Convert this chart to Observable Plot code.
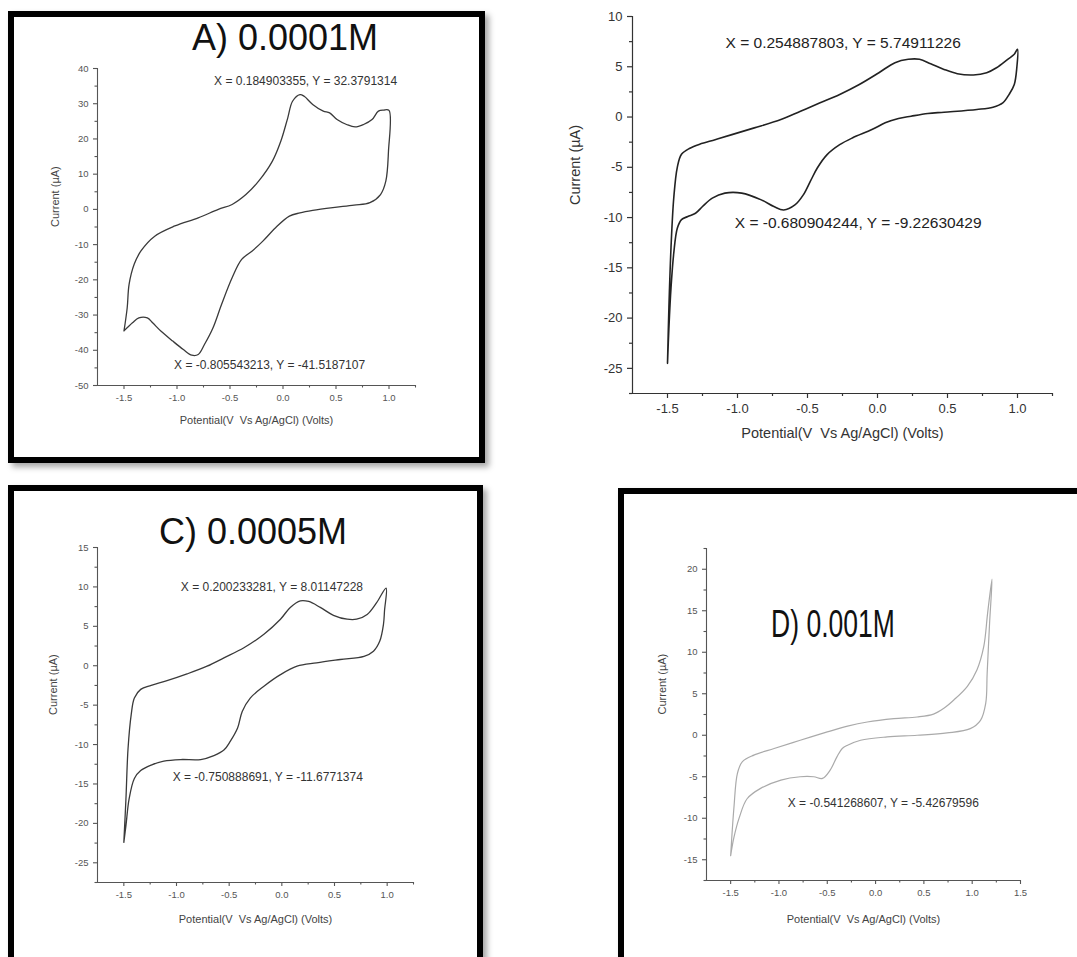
<!DOCTYPE html>
<html>
<head>
<meta charset="utf-8">
<script src="https://cdn.jsdelivr.net/npm/d3@7"></script>
<script src="https://cdn.jsdelivr.net/npm/@observablehq/plot@0.6"></script>
<style>
  html, body { margin: 0; padding: 0; background: #fff; }
  #root { position: relative; width: 1077px; height: 957px; overflow: hidden; background: #fff;
          font-family: "Liberation Sans", Arial, sans-serif; }
  .frame { position: absolute; box-sizing: border-box; border: 6px solid #000; pointer-events: none; z-index: 2;
           box-shadow: 4px 4px 6px rgba(0,0,0,0.35); }
  .title { position: absolute; z-index: 3; white-space: nowrap; color: #111; line-height: 1;
           font-family: "Liberation Sans", Arial, sans-serif; }
  svg.panel { position: absolute; z-index: 1; }
</style>
</head>
<body>
<div id="root">
  <div class="frame" style="left:8px;top:11px;width:477px;height:452px;"></div>
  <div class="frame" style="left:8px;top:485px;width:475px;height:520px;"></div>
  <div class="frame" style="left:618px;top:488px;width:520px;height:520px;"></div>
</div>
<script>
// ---------- Data ----------
const titles = ["A) 0.0001M", "C) 0.0005M", "D) 0.001M"];
const xLabel = "Potential(V  Vs Ag/AgCl) (Volts)";
const yLabel = "Current (\u00b5A)";

// Panel A (0.0001 M)
const aX = [-1.50,-1.47,-1.452,-1.404,-1.34,-1.21,-1.02,-0.80,-0.61,-0.48,-0.35,-0.23,-0.10,-0.02,0.045,0.09,0.16,0.20,0.28,0.38,0.44,0.51,0.60,0.68,0.76,0.84,0.90,0.95,1.00,
            0.995,0.97,0.92,0.82,0.67,0.47,0.28,0.16,0.06,-0.07,-0.19,-0.29,-0.39,-0.48,-0.58,-0.66,-0.74,-0.80,-0.86,-0.94,-1.04,-1.15,-1.23,-1.28,-1.36,-1.42,-1.50];
const aY = [-34.5,-28,-21.3,-15.6,-11.8,-7.6,-4.7,-2.4,0,1.4,4.2,8.0,13.7,19.4,26,30.7,32.6,32.1,29.8,27.9,27.4,25.5,24.1,23.4,24.1,25.5,27.9,28.2,28.1,
            16.5,8.0,4.2,1.9,1.2,0.5,-0.3,-1.0,-1.9,-5.2,-9.0,-11.8,-14.2,-19.4,-27,-33.6,-38.3,-41.2,-41.4,-39.8,-37.4,-34.6,-32.2,-30.8,-30.8,-32.2,-34.5];
const aPeaks = [{x: 0.184903355, y: 32.3791314}, {x: -0.805543213, y: -41.5187107}];

// Panel B
const bX = [-1.50,-1.49,-1.475,-1.455,-1.43,-1.40,-1.34,-1.27,-1.16,-1.04,-0.88,-0.69,-0.55,-0.41,-0.27,-0.13,0.01,0.125,0.22,0.30,0.38,0.475,0.57,0.685,0.78,0.85,0.93,0.977,1.00,
            0.995,0.977,0.94,0.895,0.825,0.71,0.475,0.36,0.24,0.15,0.055,-0.04,-0.18,-0.27,-0.36,-0.43,-0.48,-0.53,-0.59,-0.67,-0.74,-0.83,-0.97,-1.09,-1.18,-1.25,-1.30,-1.355,-1.40,-1.43,-1.455,-1.475,-1.49,-1.50];
const bY = [-24.5,-19,-13,-8,-5,-3.7,-3.1,-2.7,-2.25,-1.75,-1.08,-0.25,0.58,1.41,2.25,3.24,4.41,5.41,5.74,5.74,5.3,4.74,4.31,4.18,4.41,4.9,5.74,6.24,6.74,
            4.9,3.24,2.25,1.41,0.98,0.75,0.48,0.35,0.08,-0.15,-0.58,-1.25,-2.08,-2.75,-3.74,-5.07,-6.4,-7.74,-8.74,-9.24,-8.9,-8.24,-7.57,-7.57,-8.07,-8.9,-9.57,-9.9,-10.2,-11.07,-13.5,-17,-21,-24.5];
const bPeaks = [{x: 0.254887803, y: 5.74911226}, {x: -0.680904244, y: -9.22630429}];

// Panel C (0.0005 M)
const cX = [-1.50,-1.48,-1.46,-1.43,-1.40,-1.34,-1.24,-1.09,-0.90,-0.71,-0.55,-0.36,-0.17,-0.013,0.08,0.176,0.255,0.365,0.49,0.62,0.71,0.81,0.90,0.99,
            0.975,0.965,0.93,0.87,0.78,0.555,0.33,0.145,-0.013,-0.17,-0.30,-0.376,-0.42,-0.49,-0.55,-0.645,-0.77,-0.96,-1.12,-1.24,-1.34,-1.40,-1.45,-1.48,-1.50];
const cY = [-22.4,-16.9,-10.5,-6.2,-4.1,-3.0,-2.5,-1.9,-1.04,-0.06,1.0,2.28,4.0,5.9,7.4,8.23,8.15,7.4,6.4,5.9,5.9,6.5,8.0,9.85,
            7.0,5.26,3.13,1.85,1.2,0.79,0.36,-0.06,-1.13,-2.6,-4.1,-5.8,-7.9,-9.6,-10.7,-11.4,-11.9,-11.9,-12.1,-12.6,-13.3,-14.3,-16.9,-20.3,-22.4];
const cPeaks = [{x: 0.200233281, y: 8.01147228}, {x: -0.750888691, y: -11.6771374}];

// Panel D (0.001 M)
const dX = [-1.50,-1.466,-1.43,-1.38,-1.26,-1.05,-0.78,-0.50,-0.29,-0.086,0.19,0.43,0.60,0.707,0.81,0.95,1.05,1.12,1.16,1.205,
            1.18,1.155,1.14,1.086,0.98,0.74,0.43,0.12,-0.155,-0.29,-0.345,-0.40,-0.47,-0.55,-0.64,-0.78,-0.98,-1.19,-1.33,-1.41,-1.466,-1.50];
const dY = [-14.5,-8.7,-4.6,-3.2,-2.4,-1.6,-0.6,0.4,1.1,1.6,2.0,2.2,2.55,3.25,4.25,5.9,7.9,10.7,14.75,18.8,
            13.5,7.5,3.85,1.8,0.8,0.28,0.0,-0.2,-0.6,-1.2,-1.6,-2.6,-4.2,-5.2,-5.0,-5.0,-5.4,-6.4,-7.65,-9.9,-12.3,-14.5];
const dPeaks = [{x: -0.541268607, y: -5.42679596}];

// Tick values
const xMajorA = [-1.5,-1.0,-0.5,0.0,0.5,1.0];
const xMinorA = [-1.25,-0.75,-0.25,0.25,0.75,1.25];
const xMajorD = [-1.5,-1.0,-0.5,0.0,0.5,1.0,1.5];
const xMinorD = [-1.25,-0.75,-0.25,0.25,0.75,1.25];
const yMajorA = [-50,-40,-30,-20,-10,0,10,20,30,40];
const yMinorA = [-45,-35,-25,-15,-5,5,15,25,35];
const yMajorB = [-25,-20,-15,-10,-5,0,5,10];
const yMinorB = [-27.5,-22.5,-17.5,-12.5,-7.5,-2.5,2.5,7.5];
const yMajorC = [-25,-20,-15,-10,-5,0,5,10,15];
const yMinorC = [-27.5,-22.5,-17.5,-12.5,-7.5,-2.5,2.5,7.5,12.5];
const yMajorD = [-15,-10,-5,0,5,10,15,20];
const yMinorD = [-17.5,-12.5,-7.5,-2.5,2.5,7.5,12.5,17.5,22.5];

// ---------- Drawing ----------
function panel(c) {
  const pts = c.xs.map((x, i) => ({x, y: c.ys[i]}));
  const fmtX = d => d.toFixed(1);
  const fmtY = d => String(d);
  const marks = [
    Plot.ruleX([c.xDomain[0]], {stroke: c.axisColor, strokeWidth: c.axisW}),
    Plot.ruleY([c.yDomain[0]], {stroke: c.axisColor, strokeWidth: c.axisW}),
    Plot.axisX({ticks: c.xMajor, tickSize: c.tick, tickPadding: c.pad, tickFormat: fmtX, fontSize: c.fs,
                label: null, stroke: c.axisColor, fill: c.tickText, strokeWidth: c.axisW}),
    Plot.axisX({ticks: c.xMinor, tickSize: c.minor, tickFormat: () => "", label: null, stroke: c.axisColor, strokeWidth: c.axisW}),
    Plot.axisY({ticks: c.yMajor, tickSize: c.tick, tickPadding: c.pad, tickFormat: fmtY, fontSize: c.fs,
                label: null, stroke: c.axisColor, fill: c.tickText, strokeWidth: c.axisW}),
    Plot.axisY({ticks: c.yMinor, tickSize: c.minor, tickFormat: () => "", label: null, stroke: c.axisColor, strokeWidth: c.axisW}),
    Plot.line(pts, {x: "x", y: "y", curve: "catmull-rom", stroke: c.lineColor, strokeWidth: c.lineW}),
    Plot.text([xLabel], {frameAnchor: "bottom", dy: c.xLabDy, fontSize: c.labFs, fill: c.labColor}),
    Plot.text([yLabel], {frameAnchor: "left", dx: c.yLabDx, rotate: -90, fontSize: c.labFs, fill: c.labColor})
  ];
  c.peaks.forEach((p, i) => {
    marks.push(Plot.text([p], {x: "x", y: "y", text: d => `X = ${d.x}, Y = ${d.y}`,
      dx: c.noteOff[i][0], dy: c.noteOff[i][1], fontSize: c.noteFs, fill: c.noteColor}));
  });
  const svg = Plot.plot({
    width: c.w, height: c.h,
    marginLeft: c.ml, marginRight: c.mr, marginTop: c.mt, marginBottom: c.mb,
    x: {domain: c.xDomain}, y: {domain: c.yDomain},
    style: {background: "transparent", overflow: "visible", fontFamily: "'Liberation Sans', Arial, sans-serif"},
    marks
  });
  svg.classList.add("panel");
  svg.style.left = c.left + "px";
  svg.style.top = c.top + "px";
  document.getElementById("root").appendChild(svg);
}

const small = {fs: 9.5, tick: 4, minor: 2.5, pad: 5, axisColor: "#555", tickText: "#555", axisW: 1.1,
               labFs: 11, labColor: "#444", noteFs: 12, noteColor: "#333", lineW: 1.3, lineColor: "#3a3a3a"};

panel({...small, left: 0, top: 0, w: 490, h: 470, ml: 97, mr: 75, mt: 68, mb: 85,
  xDomain: [-1.75, 1.25], yDomain: [-50, 40], xMajor: xMajorA, xMinor: xMinorA, yMajor: yMajorA, yMinor: yMinorA,
  xs: aX, ys: aY, peaks: aPeaks, noteOff: [[3, -14], [72, 10]], xLabDy: 38, yLabDx: -42});

panel({fs: 13, tick: 5, minor: 3, pad: 5, axisColor: "#333", tickText: "#333", axisW: 1.2,
  labFs: 14.5, labColor: "#333", noteFs: 15.5, noteColor: "#222", lineW: 1.6, lineColor: "#222",
  left: 540, top: 0, w: 537, h: 470, ml: 92, mr: 25, mt: 16, mb: 77,
  xDomain: [-1.75, 1.25], yDomain: [-27.5, 10], xMajor: xMajorA, xMinor: xMinorA, yMajor: yMajorB, yMinor: yMinorB,
  xs: bX, ys: bY, peaks: bPeaks, noteOff: [[-70, -16], [76, 13]], xLabDy: 44, yLabDx: -57});

panel({...small, left: 0, top: 480, w: 490, h: 477, ml: 97, mr: 77, mt: 67, mb: 75,
  xDomain: [-1.75, 1.25], yDomain: [-27.5, 15], xMajor: xMajorA, xMinor: xMinorA, yMajor: yMajorC, yMinor: yMinorC,
  xs: cX, ys: cY, peaks: cPeaks, noteOff: [[-31, -15], [65, 19]], xLabDy: 40, yLabDx: -44});

panel({...small, lineColor: "#aaa", lineW: 1.2, left: 560, top: 480, w: 517, h: 477, ml: 146, mr: 57, mt: 68, mb: 77,
  xDomain: [-1.75, 1.5], yDomain: [-17.5, 22.5], xMajor: xMajorD, xMinor: xMinorD, yMajor: yMajorD, yMinor: yMinorD,
  xs: dX, ys: dY, peaks: dPeaks, noteOff: [[60, 23]], xLabDy: 42, yLabDx: -44});

// Titles
function title(text, cx, cy, size, sx) {
  const el = document.createElement("div");
  el.className = "title";
  el.textContent = text;
  el.style.left = cx + "px";
  el.style.top = cy + "px";
  el.style.fontSize = size + "px";
  el.style.transform = `translate(-50%, -50%) scaleX(${sx})`;
  document.getElementById("root").appendChild(el);
}
title(titles[0], 285, 38, 36, 1);
title(titles[1], 253, 532, 36, 1);
title(titles[2], 833, 623, 39, 0.68);
</script>
</body>
</html>
